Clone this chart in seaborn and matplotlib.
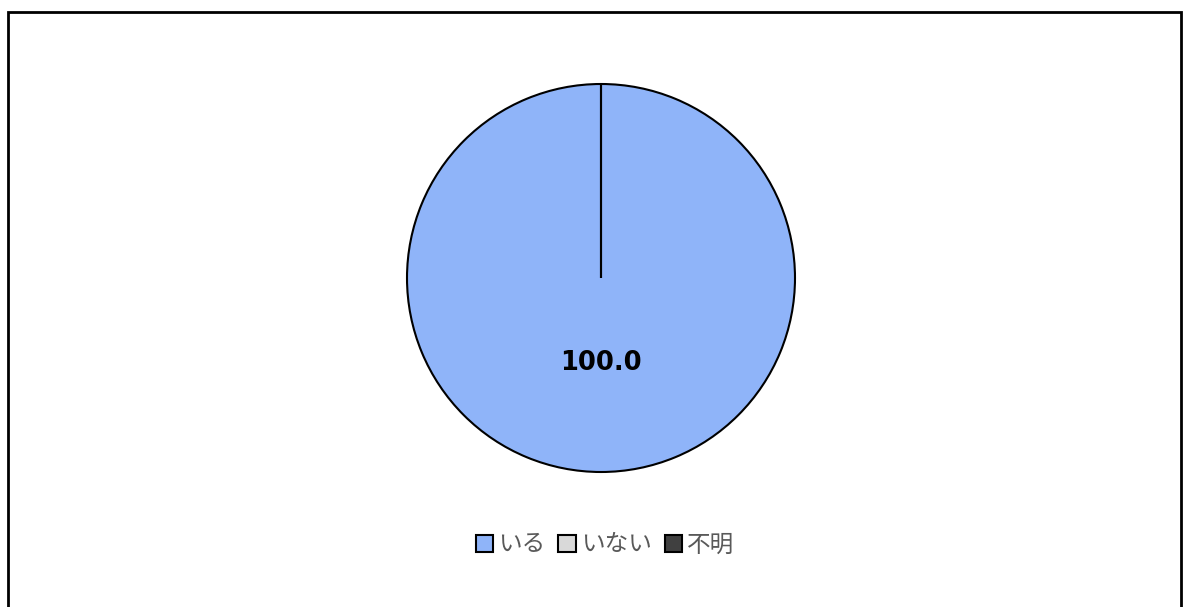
import matplotlib
matplotlib.use("Agg")
import matplotlib.pyplot as plt
import matplotlib.patches as mpatches
import seaborn as sns

# data
labels = ["いる", "いない", "不明"]
values = [100.0, 0.0, 0.0]
colors = ["#8FB4F9", "#D9D9D9", "#404040"]

sns.set_theme(style="white")
plt.rcParams["font.family"] = ["Noto Sans CJK JP", "DejaVu Sans"]

W, H = 1184, 607
fig = plt.figure(figsize=(W / 100, H / 100), dpi=100)

# pie axes: center (601, 278), radius ~194 px
cx, cy, r = 601, 278, 194
ax = fig.add_axes([(cx - r) / W, (H - cy - r) / H, 2 * r / W, 2 * r / H])

palette = sns.color_palette(colors)
wedges, texts, autotexts = ax.pie(
    values, colors=palette, startangle=90, counterclock=False,
    autopct=lambda p: f"{p:.1f}" if p > 0 else "",
    pctdistance=0.44,
    wedgeprops=dict(edgecolor="black", linewidth=1.5),
    textprops=dict(fontsize=18.5, fontweight="bold", color="black",
                   family=["DejaVu Sans"]),
)
ax.set_xlim(-1.0, 1.0)
ax.set_ylim(-1.0, 1.0)
ax.set_aspect("equal")
ax.axis("off")

# legend
handles = [mpatches.Patch(facecolor=c, edgecolor="black", linewidth=1.5, label=l)
           for c, l in zip(palette, labels)]
leg = fig.legend(handles=handles, loc="center", bbox_to_anchor=(605 / W, (H - 545) / H),
                 ncol=3, frameon=False, fontsize=17, handlelength=0.75, handleheight=0.75,
                 handletextpad=0.2, columnspacing=0.55)
for t in leg.get_texts():
    t.set_color("#595959")

# outer frame
frame = mpatches.Rectangle((8 / W, -0.1), (1181 - 8) / W, (H - 12) / H + 0.1,
                           transform=fig.transFigure, fill=False,
                           edgecolor="black", linewidth=2)
fig.patches.append(frame)

fig.savefig("out.png", dpi=100)
